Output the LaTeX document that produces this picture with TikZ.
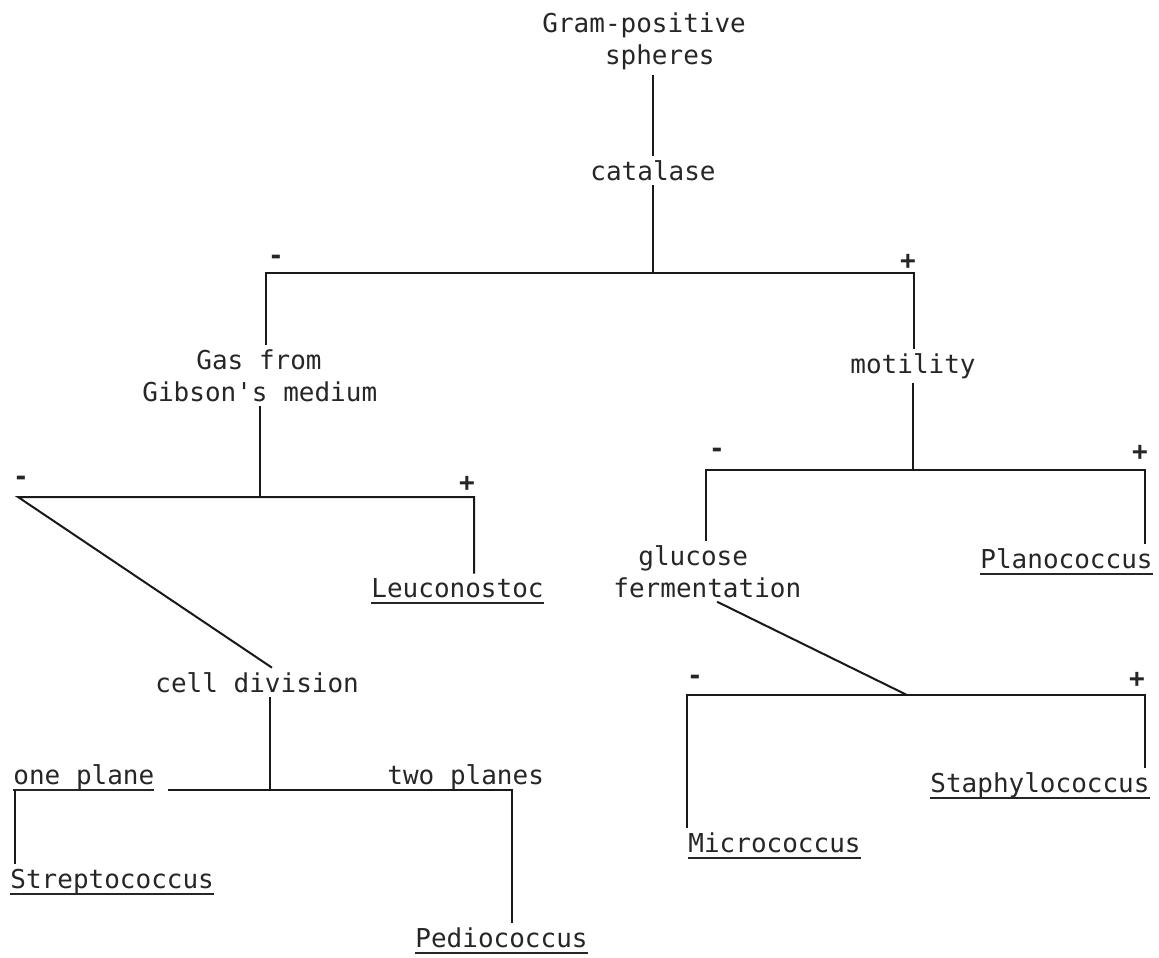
\documentclass[tikz,border=0pt]{standalone}
\usepackage{fontspec}
\setmonofont{DejaVu Sans Mono}
\usetikzlibrary{calc}

\newsavebox{\genusbox}
\newcommand{\genus}[1]{\sbox{\genusbox}{#1}\rlap{\rule[-3.5pt]{\wd\genusbox}{0.8pt}}\usebox{\genusbox}}

\begin{document}
\begin{tikzpicture}[
    x=0.5pt, y=-0.5pt,
    test/.style = {font=\ttfamily\fontsize{13}{16}\selectfont, text=black!85, inner sep=2pt, anchor=base west, xshift=-2pt, align=left},
    taxon/.style = {test},
    sign/.style = {font=\ttfamily\bfseries\fontsize{13}{16}\selectfont, text=black!85, inner sep=0pt},
    branch/.style = {line width=1pt, black!90}
]
\useasboundingbox (0,0) rectangle (1159,957);

% Tests (multi-line nodes sit on their last line)
\node[test] (gram) at (542,65) {Gram-positive\\\hphantom{Gram}spheres};
\node[test] (catalase) at (590,180) {catalase};
\node[test] (gas) at (142,401) {\hspace{27pt}Gas from\\Gibson's medium};
\node[test] (motility) at (850,373) {motility};
\node[test] (celldiv) at (155,692) {cell division};
\node[test] (gluc) at (613,597) {\hspace{12.5pt}glucose\\fermentation};
\node[test] (oneplane) at (13,784) {\genus{one plane}};
\node[test] (twoplanes) at (387,784) {two planes};

% Genera
\node[taxon] (leuco) at (371,597) {\genus{Leuconostoc}};
\node[taxon] (strep) at (10,888) {\genus{Streptococcus}};
\node[taxon] (pedio) at (415,947) {\genus{Pediococcus}};
\node[taxon] (plano) at (980,568) {\genus{Planococcus}};
\node[taxon] (staph) at (930,792) {\genus{Staphylococcus}};
\node[taxon] (micro) at (688,852) {\genus{Micrococcus}};

% Signs over the splits
\node[sign] (catneg) at (276,260) {-};
\node[sign] (catpos) at (908,262) {+};
\node[sign] (gasneg) at (21,481) {-};
\node[sign] (gaspos) at (467,484) {+};
\node[sign] (motneg) at (717,453) {-};
\node[sign] (motpos) at (1140,453) {+};
\node[sign] (fermneg) at (695,680) {-};
\node[sign] (fermpos) at (1137,680) {+};

% Split points
\coordinate (catL) at (266,273);
\coordinate (catR) at (914,273);
\coordinate (gasL) at (18,497);
\coordinate (gasR) at (474,497);
\coordinate (motL) at (706,470);
\coordinate (motR) at (1145,470);
\coordinate (divL) at (15,790);
\coordinate (divgap) at (168,790);
\coordinate (divR) at (512,790);
\coordinate (fermL) at (687,695);
\coordinate (fermM) at (907,695);
\coordinate (fermR) at (1145,695);
\coordinate (divtop) at ($(celldiv.north west)!0.57!(celldiv.north east)$);
\coordinate (divbot) at ($(celldiv.south west)!0.56!(celldiv.south east)$);
\coordinate (fermfrom) at ($(gluc.south west)!0.55!(gluc.south east)$);

% Catalase
\draw[branch] (gram.south -| catalase.north) -- (catalase.north);
\draw[branch] (catalase.south) -- (catalase.south |- catL);
\draw[branch] (gas.north -| catL) -- (catL) -- (catR) -- (motility.north -| catR);

% Gas from Gibson's medium
\draw[branch] (gas.south) -- (gas.south |- gasL);
\draw[branch] (leuco.north -| gasR) -- (gasR) -- (gasL) -- (divtop);

% Cell division
\draw[branch] (divbot) -- (divbot |- divL);
\draw[branch] (divgap) -- (divR) -- (pedio.north -| divR);
\draw[branch] (divL) -- (strep.north -| divL);

% Motility
\draw[branch] (motility.south) -- (motility.south |- motL);
\draw[branch] (gluc.north -| motL) -- (motL) -- (motR) -- (plano.north -| motR);

% Glucose fermentation
\draw[branch] (fermfrom) -- (fermM);
\draw[branch] (micro.north -| fermL) -- (fermL) -- (fermR) -- (staph.north -| fermR);

\end{tikzpicture}
\end{document}
